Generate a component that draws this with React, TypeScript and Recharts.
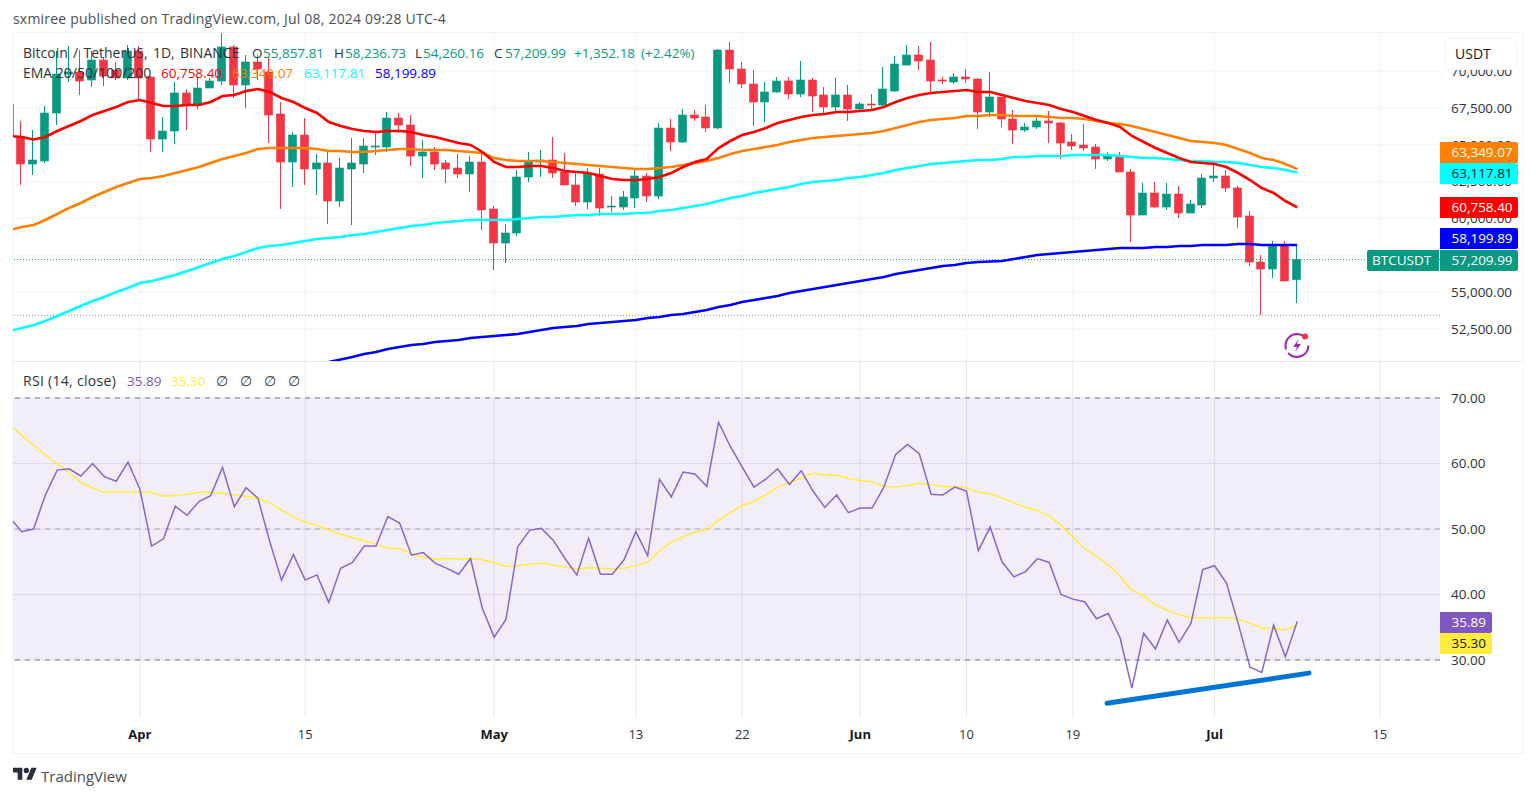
import { Bar, CartesianGrid, ComposedChart, Line, ReferenceArea, ReferenceLine, XAxis, YAxis } from 'recharts'

// Daily BTCUSDT candles, Mar 21 to Jul 8 2024 (first row has 11 candles, then 10 per row)
const opens = [
  67773, 65533, 63700, 63904, 67162, 69809, 69945, 69402, 70760, 70081, 69538,
  71371, 69606, 65397, 65940, 68520, 67773, 68859, 69334, 71642, 69063,
  70624, 69945, 67094, 63836, 65668, 63361, 63768, 61188, 63361, 63700,
  64854, 64854, 66822, 66347, 64243, 64515, 63768, 63429, 63021, 63836,
  60645, 58337, 59016, 62818, 63836, 63972, 63157, 62274, 61121, 63021,
  60781, 60781, 61392, 62886, 61528, 66144, 65193, 67026, 66890, 66144,
  71438, 70149, 69131, 67909, 68588, 69334, 68452, 69402, 68384, 67569,
  68384, 67433, 67773, 67705, 68655, 70420, 71099, 70760, 69402, 69266,
  69606, 69470, 67230, 68248, 66755, 66008, 66212, 66619, 66483, 65193,
  64990, 64854, 64039, 64243, 63157, 60238, 61731, 60781, 61664, 60374,
  60917, 62750, 62886, 62071, 60170, 57048, 56572, 58201, 55857.81,
]
const highs = [
  67841, 66619, 66008, 67637, 71371, 71710, 71438, 71371, 70895, 70624, 71778,
  71710, 69673, 66890, 69266, 68791, 69606, 69538, 72593, 71778, 71099,
  71099, 70963, 67909, 65872, 66822, 64379, 64515, 64107, 65465, 65465,
  65804, 67230, 67162, 67026, 65329, 64854, 63972, 64379, 64243, 64379,
  60849, 59627, 63293, 64515, 64650, 65533, 64447, 63089, 63429, 63429,
  61528, 61867, 63429, 63089, 66483, 66755, 67433, 67365, 67705, 71506,
  71981, 70624, 70081, 69266, 69606, 69606, 70692, 69538, 68927, 69538,
  69063, 67909, 68452, 70284, 71031, 71778, 71710, 71981, 69606, 69877,
  70149, 69538, 69945, 68248, 67365, 66483, 66958, 67297, 66551, 65736,
  66415, 65058, 64515, 64515, 63361, 62410, 62478, 62410, 62207, 61256,
  63021, 63836, 63293, 62207, 60510, 57523, 58473, 58473, 58236.73,
]
const lows = [
  65329, 62274, 62953, 63768, 66347, 69266, 68384, 68927, 68995, 69402, 69402,
  68112, 64515, 64515, 65058, 66008, 67433, 68859, 69063, 68180, 67501,
  69402, 65125, 60645, 62139, 62274, 61596, 59627, 60781, 59559, 63089,
  64311, 64515, 65804, 63564, 62750, 63293, 62410, 62750, 61799, 59220,
  56504, 56980, 58812, 62478, 62818, 62750, 62274, 60849, 60645, 60170,
  60442, 60578, 60713, 61121, 61324, 64582, 65125, 66619, 65872, 66076,
  69199, 68859, 66279, 66551, 68520, 68112, 68248, 67230, 67162, 67162,
  66619, 67365, 67433, 67569, 68588, 70420, 70081, 68520, 69131, 69131,
  69199, 66076, 66890, 66212, 65058, 65872, 66076, 65125, 64039, 64650,
  64582, 63361, 63904, 63157, 58405, 60238, 60713, 60578, 60035, 60374,
  60713, 62478, 61799, 59356, 56776, 53450, 55961, 55758, 54260.16,
]
const closes = [
  65533, 63700, 63972, 67162, 69809, 69945, 69334, 70760, 69673, 69538, 71371,
  69538, 65397, 65940, 68520, 67705, 68859, 69334, 71642, 69063, 70624,
  70149, 67026, 63836, 65668, 63361, 63768, 61188, 63429, 63768, 64922,
  64922, 66822, 66347, 64243, 64515, 63700, 63361, 63021, 63836, 60578,
  58337, 59016, 62818, 63904, 63972, 63089, 62274, 61121, 63089, 60713,
  60849, 61460, 62886, 61528, 66144, 65193, 67026, 66822, 66144, 71438,
  70149, 69131, 67909, 68588, 69334, 68452, 69402, 68316, 67569, 68384,
  67433, 67773, 67705, 68791, 70488, 71099, 70692, 69334, 69334, 69606,
  69470, 67230, 68248, 66755, 66008, 66212, 66619, 66483, 65125, 64922,
  64786, 64039, 64243, 63157, 60238, 61731, 60781, 61664, 60374, 60985,
  62750, 62886, 62071, 60102, 57048, 56572, 58201, 55758, 57209.99,
]
const ema20 = [
  65601, 65533, 65363, 65533, 65940, 66279, 66619, 67026, 67297, 67569, 67909,
  68044, 67841, 67637, 67637, 67705, 67705, 67909, 68316, 68384, 68655,
  68791, 68588, 68180, 67909, 67501, 67162, 66551, 66279, 66076, 65940,
  65872, 65940, 65940, 65872, 65668, 65533, 65329, 65125, 64990, 64515,
  63836, 63496, 63496, 63564, 63564, 63429, 63225, 63157, 63089, 62886,
  62682, 62614, 62614, 62682, 62818, 63089, 63496, 63836, 64039, 64786,
  65261, 65668, 65872, 66144, 66483, 66687, 66890, 67026, 67094, 67230,
  67230, 67297, 67365, 67569, 67909, 68180, 68384, 68520, 68588, 68655,
  68723, 68588, 68588, 68384, 68180, 67977, 67841, 67705, 67433, 67230,
  66958, 66687, 66483, 66212, 65601, 65193, 64786, 64447, 64107, 63836,
  63768, 63700, 63496, 63089, 62614, 62071, 61731, 61188, 60758.4,
]
const ema50 = [
  59220, 59424, 59559, 59899, 60306, 60713, 61053, 61460, 61799, 62139, 62410,
  62682, 62750, 62886, 63089, 63293, 63496, 63768, 64039, 64243, 64447,
  64718, 64786, 64786, 64786, 64786, 64718, 64582, 64582, 64515, 64515,
  64582, 64650, 64718, 64718, 64650, 64650, 64650, 64582, 64515, 64447,
  64107, 63972, 63904, 63904, 63904, 63836, 63768, 63700, 63632, 63564,
  63496, 63429, 63361, 63361, 63429, 63496, 63632, 63768, 63904, 64107,
  64379, 64582, 64718, 64854, 64990, 65193, 65329, 65465, 65533, 65601,
  65668, 65736, 65804, 65940, 66144, 66347, 66551, 66687, 66755, 66822,
  66958, 66958, 67026, 67026, 66958, 66958, 66958, 66890, 66822, 66822,
  66755, 66619, 66483, 66415, 66279, 66076, 65872, 65668, 65465, 65261,
  65193, 65125, 64990, 64718, 64447, 64107, 63972, 63700, 63349.07,
]
const ema100 = [
  52364, 52567, 52771, 53042, 53382, 53721, 54061, 54400, 54672, 55011, 55283,
  55622, 55758, 55961, 56165, 56436, 56708, 56980, 57251, 57455, 57727,
  57998, 58134, 58201, 58337, 58473, 58609, 58677, 58745, 58880, 58948,
  59084, 59220, 59356, 59491, 59559, 59695, 59763, 59831, 59899, 59899,
  59899, 59899, 59967, 60035, 60102, 60102, 60170, 60238, 60238, 60306,
  60306, 60306, 60374, 60374, 60510, 60578, 60713, 60849, 60985, 61188,
  61392, 61528, 61731, 61867, 62003, 62139, 62342, 62478, 62546, 62614,
  62750, 62818, 62953, 63089, 63293, 63429, 63564, 63700, 63768, 63836,
  63904, 63972, 63972, 64039, 64175, 64175, 64243, 64243, 64243, 64311,
  64311, 64311, 64311, 64243, 64175, 64107, 64107, 64039, 63972, 63904,
  63904, 63836, 63836, 63768, 63632, 63496, 63429, 63293, 63117.81,
]
// below the pane until mid April
const ema200 = [
  null, null, null, null, null, null, null, null, null, null, null,
  null, null, null, null, null, null, null, null, null, null,
  null, null, null, null, null, null, 50259, 50430, 50599, 50802,
  50938, 51142, 51278, 51413, 51481, 51617, 51685, 51753, 51888, 51956,
  52024, 52092, 52160, 52296, 52431, 52567, 52635, 52703, 52839, 52907,
  52974, 53042, 53110, 53246, 53314, 53450, 53518, 53654, 53789, 53993,
  54129, 54332, 54468, 54604, 54739, 54943, 55079, 55215, 55350, 55486,
  55622, 55758, 55893, 56029, 56233, 56369, 56504, 56640, 56776, 56844,
  56980, 57048, 57082, 57116, 57251, 57387, 57523, 57591, 57659, 57727,
  57794, 57862, 57930, 57998, 57998, 57998, 58066, 58066, 58134, 58134,
  58201, 58201, 58201, 58269, 58269, 58201, 58201, 58201, 58199.89,
]
const rsi = [
  51.7, 49.6, 50, 55.2, 59, 59.2, 58.1, 60, 58, 57.3, 60.2,
  56.1, 47.4, 48.5, 53.5, 52.1, 54.2, 55.1, 59.4, 53.4, 56.3,
  54.7, 48.1, 42.2, 46.1, 42.2, 43, 38.8, 44, 44.9, 47.4,
  47.4, 51.9, 50.9, 46, 46.4, 44.8, 44, 43.1, 45.5, 37.9,
  33.5, 36.2, 47.3, 49.8, 50.1, 48.3, 45.5, 43, 48.6, 43.1,
  43.1, 45.3, 49.6, 45.9, 57.6, 54.9, 58.7, 58.4, 56.5, 66.3,
  62.6, 59.5, 56.4, 57.6, 59.2, 56.8, 58.9, 55.8, 53.3, 55.2,
  52.5, 53.2, 53.2, 56.4, 61.4, 62.9, 61.5, 55.3, 55.2, 56.4,
  55.8, 46.7, 50.3, 45, 42.7, 43.5, 45.5, 44.9, 40, 39.3,
  38.9, 36.3, 37.1, 33.4, 25.7, 34.1, 31.7, 36.1, 32.7, 35.6,
  43.8, 44.4, 41.8, 35.6, 28.9, 28.1, 35.3, 30.5, 35.89,
]
const rsiMa = [
  65.9, 64.3, 62.8, 61.3, 60, 58.7, 57.1, 56.3, 55.6, 55.7, 55.7,
  55.6, 55.6, 55, 55.1, 55.3, 55.6, 55.6, 55.5, 55.2, 55,
  54.7, 54, 52.9, 51.9, 51, 50.6, 49.9, 49.2, 48.7, 48.2,
  47.7, 47.1, 47, 46.2, 45.7, 45.4, 45.5, 45.4, 45.5, 45.3,
  44.9, 44.3, 44.4, 44.6, 44.8, 44.5, 44.2, 43.9, 44.1, 44,
  43.9, 44, 44.4, 44.9, 46.7, 48, 48.8, 49.5, 49.9, 51.4,
  52.5, 53.6, 54.2, 55.2, 56.4, 57.1, 57.8, 58.5, 58.2, 58.2,
  57.7, 57.4, 57.2, 56.5, 56.4, 56.6, 57, 56.8, 56.5, 56.5,
  56.3, 55.6, 55.4, 54.8, 54, 53.3, 52.8, 52, 50.6, 48.8,
  47, 45.9, 44.5, 42.8, 40.7, 39.8, 38.4, 37.6, 36.9, 36.5,
  36.4, 36.4, 36.5, 36.2, 35.6, 34.9, 34.8, 34.6, 35.3,
]

const priceTicks = [52500, 55000, 57500, 60000, 62500, 65000, 67500, 70000]
const rsiTicks = [30, 40, 50, 60, 70]
// days counted from Apr 1
const tickDays = [0, 14, 30, 42, 51, 61, 70, 79, 91, 105]
const tickLabels = ['Apr', '15', 'May', '13', '22', 'Jun', '10', '19', 'Jul', '15']
const monthLabels = ['Apr', 'May', 'Jun', 'Jul']

const lastClose = 57209.99
const lowestLow = 53430
const trendStart = { x: 81.9, y: 23.4 }
const trendEnd = { x: 99, y: 28 }

const chartData = opens.map((open, i) => ({
  day: i - 11,
  open,
  high: highs[i],
  low: lows[i],
  close: closes[i],
  range: [lows[i], highs[i]],
  ema20: ema20[i],
  ema50: ema50[i],
  ema100: ema100[i],
  ema200: ema200[i],
  rsi: rsi[i],
  rsiMa: rsiMa[i],
}))

const UP = '#089981'
const DOWN = '#F23645'
const GRID = '#f3f4f8'
const TEXT = '#2e3238'
const FONT = '"Open Sans", sans-serif'
const dayDomain: [number, number] = [-10.74, 110.09]

const priceFormat = (v: number) => v.toLocaleString('en-US', { minimumFractionDigits: 2, maximumFractionDigits: 2 })

function Candle(props: any) {
  const { x, y, width, height, payload } = props
  const unit = height / (payload.high - payload.low)
  const top = y + (payload.high - Math.max(payload.open, payload.close)) * unit
  const bottom = y + (payload.high - Math.min(payload.open, payload.close)) * unit
  const color = payload.close >= payload.open ? UP : DOWN
  const mid = Math.round(x + width / 2) - 0.5
  return (
    <g>
      <line x1={mid} x2={mid} y1={y} y2={y + height} stroke={color} strokeWidth={1} />
      <rect x={mid - 4} y={top} width={8} height={Math.max(bottom - top, 1)} fill={color} stroke={color} strokeWidth={0.6} />
    </g>
  )
}

function DayTick(props: any) {
  const { x, y, payload } = props
  const label = tickLabels[tickDays.indexOf(payload.value)]
  const isMonth = monthLabels.includes(label)
  return (
    <text x={x} y={y} dy={4} textAnchor="middle" fontFamily={FONT} fontSize={13} fontWeight={isMonth ? 700 : 400} fill={isMonth ? '#131722' : TEXT}>
      {label}
    </text>
  )
}

function Legend({ left, top, color, children, size, spacing, wordGap }: any) {
  return (
    <div style={{ position: 'absolute', left, top, color, fontSize: size || 13.5, letterSpacing: spacing || 0, wordSpacing: wordGap || 0, lineHeight: '20px', whiteSpace: 'pre' }}>{children}</div>
  )
}

function Tag({ left, top, width, bg, color, children }: any) {
  return (
    <div style={{ position: 'absolute', left, top, width, height: 21, boxSizing: 'border-box', paddingLeft: 11.5, background: bg, color, fontSize: 13.5, lineHeight: '21px', borderRadius: '0 2px 2px 0' }}>
      {children}
    </div>
  )
}

export default function App() {
  return (
    <div style={{ position: 'absolute', left: 0, top: 0, width: 1536, height: 796, background: '#fff', fontFamily: FONT, overflow: 'hidden' }}>
      <div style={{ position: 'absolute', left: 12, top: 32, width: 1510, height: 720, border: '1.5px solid #f0f3fa' }} />
      <div style={{ position: 'absolute', left: 13, top: 361, width: 1509, height: 1, background: '#e6e8f0' }} />

      <div style={{ position: 'absolute', left: 13, top: 33 }}>
        <ComposedChart width={1510} height={328} data={chartData} margin={{ top: 0, right: 0, bottom: 0, left: 0 }}>
          <CartesianGrid stroke={GRID} horizontalValues={priceTicks} verticalValues={tickDays} />
          <XAxis dataKey="day" type="number" domain={dayDomain} allowDataOverflow hide ticks={tickDays} />
          <YAxis
            orientation="right"
            width={83}
            domain={[50328, 72593]}
            allowDataOverflow
            ticks={priceTicks}
            interval={0}
            tickLine={false}
            axisLine={false}
            tickSize={0}
            tickMargin={11}
            tickFormatter={priceFormat}
            tick={{ fontFamily: FONT, fontSize: 13.5, fill: TEXT, textAnchor: 'start' }}
          />
          <ReferenceLine y={lastClose} stroke={UP} strokeDasharray="1 2" />
          <ReferenceLine y={lowestLow} stroke="#888" strokeDasharray="1 2" />
          <Bar dataKey="range" barSize={9} shape={<Candle />} isAnimationActive={false} />
          <Line dataKey="ema200" stroke="#0000ff" strokeWidth={2.6} dot={false} isAnimationActive={false} />
          <Line dataKey="ema100" stroke="#00ffff" strokeWidth={2.6} dot={false} isAnimationActive={false} />
          <Line dataKey="ema50" stroke="#ff7f00" strokeWidth={2.6} dot={false} isAnimationActive={false} />
          <Line dataKey="ema20" stroke="#ff0000" strokeWidth={2.6} dot={false} isAnimationActive={false} />
        </ComposedChart>
      </div>

      <div style={{ position: 'absolute', left: 13, top: 362 }}>
        <ComposedChart width={1510} height={391} data={chartData} margin={{ top: 0, right: 0, bottom: 0, left: 0 }}>
          <ReferenceArea y1={30} y2={70} fill="#7e57c2" fillOpacity={0.1} stroke="none" />
          <CartesianGrid stroke="#e9e8f1" horizontalValues={rsiTicks} verticalValues={tickDays} />
          <XAxis
            dataKey="day"
            type="number"
            domain={dayDomain}
            allowDataOverflow
            ticks={tickDays}
            interval={0}
            height={35}
            tickLine={false}
            axisLine={false}
            tickSize={0}
            tickMargin={17}
            tick={<DayTick />}
          />
          <YAxis
            orientation="right"
            width={83}
            domain={[21.15, 75.5]}
            allowDataOverflow
            ticks={rsiTicks}
            interval={0}
            tickLine={false}
            axisLine={false}
            tickSize={0}
            tickMargin={11}
            tickFormatter={(v: number) => v.toFixed(2)}
            tick={{ fontFamily: FONT, fontSize: 13.5, fill: TEXT, textAnchor: 'start' }}
          />
          <ReferenceLine y={70} stroke="#a09dab" strokeDasharray="5 5" strokeWidth={1.4} />
          <ReferenceLine y={50} stroke="#a8a5b3" strokeDasharray="5 5" />
          <ReferenceLine y={30} stroke="#a09dab" strokeDasharray="5 5" strokeWidth={1.4} />
          <Line dataKey="rsiMa" stroke="#ffeb3b" strokeWidth={1.5} dot={false} isAnimationActive={false} />
          <Line dataKey="rsi" stroke="#7e57c2" strokeWidth={1.5} strokeOpacity={0.9} dot={false} isAnimationActive={false} />
          <ReferenceLine segment={[trendStart, trendEnd]} stroke="#0074d4" strokeWidth={5} strokeLinecap="round" />
        </ComposedChart>
      </div>

      <Legend left={13} top={9} color="#4a4e57" size={14} spacing={0.2}>sxmiree published on TradingView.com, Jul 08, 2024 09:28 UTC-4</Legend>

      <Legend left={23} top={43} color={TEXT} size={14} wordGap={1.6}>Bitcoin / TetherUS, 1D, BINANCE</Legend>
      <Legend left={252} top={43} color={TEXT}>O</Legend>
      <Legend left={263} top={43} color={UP}>55,857.81</Legend>
      <Legend left={334} top={43} color={TEXT}>H</Legend>
      <Legend left={345} top={43} color={UP}>58,236.73</Legend>
      <Legend left={415} top={43} color={TEXT}>L</Legend>
      <Legend left={423} top={43} color={UP}>54,260.16</Legend>
      <Legend left={494} top={43} color={TEXT}>C</Legend>
      <Legend left={505} top={43} color={UP}>57,209.99</Legend>
      <Legend left={574} top={43} color={UP}>+1,352.18</Legend>
      <Legend left={641} top={43} color={UP}>(+2.42%)</Legend>

      <Legend left={23} top={63} color={TEXT} size={14}>EMA 20/50/100/200</Legend>
      <Legend left={161} top={63} color="#ff0000">60,758.40</Legend>
      <Legend left={232} top={63} color="#ff7f00">63,349.07</Legend>
      <Legend left={304} top={63} color="#00ffff">63,117.81</Legend>
      <Legend left={375} top={63} color="#0000ff">58,199.89</Legend>

      <Legend left={23} top={371} color={TEXT} size={14} spacing={0.3}>RSI (14, close)</Legend>
      <Legend left={127} top={371} color="#7e57c2">35.89</Legend>
      <Legend left={171} top={371} color="#ffeb3b">35.30</Legend>
      <Legend left={216} top={371} color={TEXT}>∅</Legend>
      <Legend left={240} top={371} color={TEXT}>∅</Legend>
      <Legend left={264} top={371} color={TEXT}>∅</Legend>
      <Legend left={288} top={371} color={TEXT}>∅</Legend>

      <div style={{ position: 'absolute', left: 1444, top: 38, width: 73, height: 32, boxSizing: 'border-box', border: '1px solid #f0f3fa', borderRadius: 6, background: '#fff', color: '#131722', fontSize: 14, lineHeight: '30px', paddingLeft: 10 }}>USDT</div>

      <Tag left={1440} top={142} width={78} bg="#ff7f00" color="#fff">63,349.07</Tag>
      <Tag left={1440} top={163} width={78} bg="#00ffff" color="#131722">63,117.81</Tag>
      <Tag left={1440} top={197} width={78} bg="#ff0000" color="#fff">60,758.40</Tag>
      <Tag left={1440} top={228} width={78} bg="#0000ff" color="#fff">58,199.89</Tag>
      <Tag left={1440} top={250} width={78} bg={UP} color="#fff">57,209.99</Tag>
      <div style={{ position: 'absolute', left: 1367, top: 250, width: 72, height: 21, boxSizing: 'border-box', paddingLeft: 5, background: UP, color: '#fff', fontSize: 13.5, lineHeight: '21px', borderRadius: '2px 0 0 2px' }}>BTCUSDT</div>
      <Tag left={1440} top={612} width={52} bg="#7e57c2" color="#fff">35.89</Tag>
      <Tag left={1440} top={633} width={52} bg="#ffeb3b" color="#131722">35.30</Tag>

      <svg style={{ position: 'absolute', left: 1283, top: 331 }} width={30} height={30} viewBox="0 0 30 30">
        <circle cx={14} cy={14.5} r={11.5} fill="none" stroke="#9c27b0" strokeWidth={2} strokeDasharray="28 4 30 10" />
        <path d="M16 8 L10 16 L14 16 L12 21 L18 13 L14 13 Z" fill="#9c27b0" />
        <circle cx={22} cy={5.5} r={3} fill="#f23645" />
      </svg>

      <svg style={{ position: 'absolute', left: 13, top: 765 }} width={24} height={19} viewBox="0 0 36 28">
        <path d="M14 22H7V11H0V4h14v18zM28 22h-8l7.5-18h8L28 22z" fill="#2a2e39" />
        <circle cx={20} cy={8} r={4} fill="#2a2e39" />
      </svg>
      <Legend left={41} top={766} color="#4a4e57" size={15}>TradingView</Legend>
    </div>
  )
}
